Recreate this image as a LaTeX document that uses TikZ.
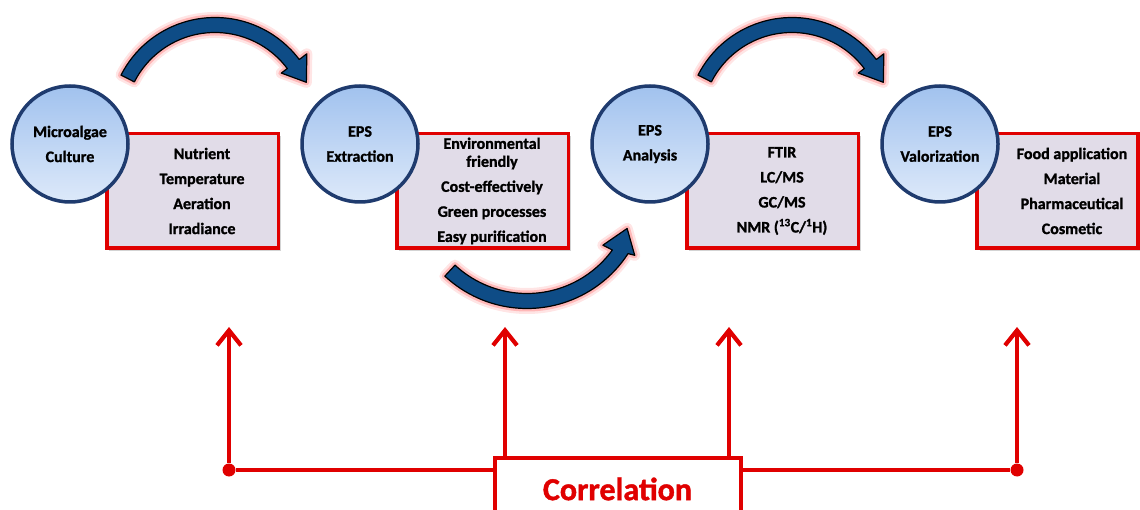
\documentclass[tikz,border=0pt]{standalone}
\usepackage{fontspec}
\setmainfont{Carlito}[BoldFeatures={FakeBold=1.3}]
\usetikzlibrary{arrows.meta,shadows,calc}
\definecolor{redline}{HTML}{E00000}
\definecolor{navy}{HTML}{1F3B6E}
\definecolor{arrowblue}{HTML}{0E4C86}
\definecolor{boxfill}{HTML}{E1DCE8}
\definecolor{circtop}{HTML}{A1C2EE}
\definecolor{circbot}{HTML}{DDE9FA}
\begin{document}
\begin{tikzpicture}[x=1pt,y=-1pt,
  stage/.style={circle, draw=navy, line width=3.5pt, minimum size=116pt, inner sep=0pt,
    top color=circtop, bottom color=circbot, font=\bfseries\fontsize{16}{25}\selectfont, align=center, text=black},
  infobox/.style={rectangle, draw=redline, line width=3.5pt, fill=boxfill, minimum width=171.5pt,
    minimum height=114.5pt, inner sep=0pt, drop shadow={shadow xshift=2.5pt,shadow yshift=-2.5pt,opacity=0.35}},
  listtext/.style={font=\bfseries\fontsize{16}{25}\selectfont, align=center, inner sep=0pt},
  bendarrow/.style={fill=arrowblue, draw=black, line width=1.2pt, line join=round,
    preaction={draw=red!10, line width=11pt, line join=round},
    preaction={draw=red!28, line width=6pt, line join=round}},
  redlink/.style={draw=redline, line width=4.2pt},
  redarrow/.style={redlink, -{Straight Barb[length=15pt,width=24pt]}},
  dot/.style={circle, fill=redline, minimum size=13pt, inner sep=0pt},
  corrbox/.style={rectangle, draw=redline, line width=4pt, fill=white, minimum width=246pt,
    minimum height=62pt, font=\bfseries\fontsize{32}{36}\selectfont, text=redline}
]
\useasboundingbox (0,0) rectangle (1140,510);

% info boxes
\node[infobox] (b1) at (192.5,191) {};
\node[infobox] (b2) at (482.5,191) {};
\node[infobox] (b3) at (772.5,191) {};
\node[infobox, minimum width=161pt] (b4) at (1057.5,191) {};

\node[listtext] (l1) at (202,191) {Nutrient\\Temperature\\Aeration\\Irradiance};
\node[listtext] (l2) at (492,191) {Environmental\\[-7pt]friendly\\Cost-effectively\\Green processes\\Easy purification};
\node[listtext] (l3) at (782,191) {FTIR\\LC/MS\\GC/MS\\NMR (\textsuperscript{13}C/\textsuperscript{1}H)};
\node[listtext] (l4) at (1072,191) {Food application\\Material\\Pharmaceutical\\Cosmetic};

% stage circles
\node[stage] (c1) at (70,144) {Microalgae\\Culture};
\node[stage] (c2) at (360,144) {EPS\\Extraction};
\node[stage] (c3) at (650,144) {EPS\\Analysis};
\node[stage] (c4) at (940,144) {EPS\\Valorization};

% bent arrows
\coordinate (a1c) at (215,123);
\coordinate (a2c) at (792,123);
\coordinate (a3c) at (527,188);
\foreach \cc in {a1c,a2c}{
  \path[bendarrow] ([shift={(-153:105.5)}]\cc) arc[start angle=-153,end angle=-37,radius=105.5]
    -- ([shift={(-37:115)}]\cc) -- ([shift={(-24:100)}]\cc) -- ([shift={(-37:83)}]\cc)
    -- ([shift={(-37:90.5)}]\cc) arc[start angle=-37,end angle=-153,radius=90.5] -- cycle;
}
\path[bendarrow] ([shift={(133:120.5)}]a3c) arc[start angle=133,end angle=33,radius=120.5]
    -- ([shift={(32:127)}]a3c) -- ([shift={(22:108)}]a3c) -- ([shift={(37:95)}]a3c)
    -- ([shift={(36:105.5)}]a3c) arc[start angle=36,end angle=133,radius=105.5] -- cycle;

% correlation part
\node[dot] (d1) at (229,470) {};
\node[dot] (d4) at (1017,470) {};
\coordinate (t1) at (229,327);
\coordinate (t2) at (505,327);
\coordinate (t3) at (729,327);
\coordinate (t4) at (1017,327);
\coordinate (m2) at (505,470);
\coordinate (m3) at (729,470);
\draw[redlink] (d1) -- (d4);
\draw[redarrow] (d1) -- (t1);
\draw[redarrow] (m2) -- (t2);
\draw[redarrow] (m3) -- (t3);
\draw[redarrow] (d4) -- (t4);
\node[corrbox] (corr) at (617.5,489) {Correlation};
\end{tikzpicture}
\end{document}
